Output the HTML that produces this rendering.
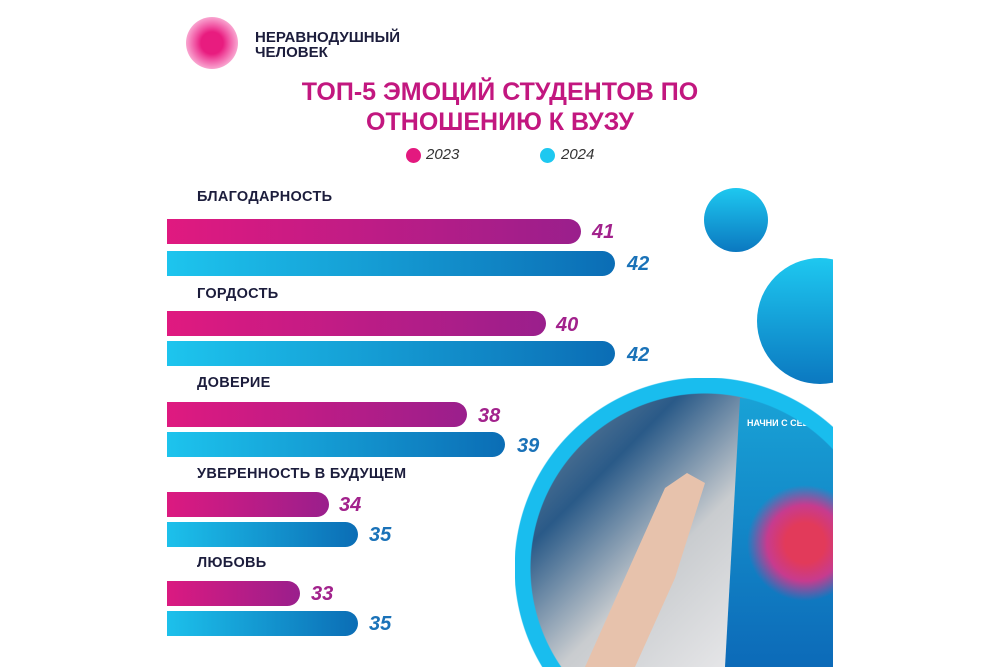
<!DOCTYPE html>
<html style="margin:0;width:1000px;height:667px;overflow:hidden"><head><meta charset="utf-8"><style>
body{margin:0;width:1000px;height:667px;background:#fff;overflow:hidden;font-family:"Liberation Sans","DejaVu Sans",sans-serif}
#w{position:relative;width:1000px;height:667px;overflow:hidden;background:#fff}
.a{position:absolute}
.lab{position:absolute;left:197px;font-weight:bold;font-size:14.5px;color:#1c1d3c;letter-spacing:0.3px}
.b{position:absolute;left:150px;height:25px;border-radius:0 13px 13px 0}
.p{background:linear-gradient(90deg,#e3197f,#9a1f8c)}
.c{background:linear-gradient(90deg,#1ec8f0,#0b6db5)}
.v{position:absolute;font-weight:bold;font-style:italic;font-size:20px}
.vp{color:#a2228c}.vc{color:#1a72b8}
.f{position:absolute;left:0;top:0;width:318px;height:289px}
</style></head><body><div id="w">
<div class="a" style="left:186px;top:17px;width:52px;height:52px;border-radius:50%;background:radial-gradient(circle,#e81c7f 0 30%,#f050a0 45%,#f793c6 65%,#fcd4e8 85%,#fff 100%)"></div>
<div class="a" style="left:255px;top:30px;font-weight:bold;font-size:15px;line-height:15px;color:#1c1d3c">НЕРАВНОДУШНЫЙ<br>ЧЕЛОВЕК</div>
<div class="a" style="left:200px;top:77px;width:600px;text-align:center;font-weight:bold;font-size:25px;line-height:30px;color:#c2177f">ТОП-5 ЭМОЦИЙ СТУДЕНТОВ ПО<br>ОТНОШЕНИЮ К ВУЗУ</div>
<div class="a" style="left:406px;top:148px;width:15px;height:15px;border-radius:50%;background:#e3197f"></div>
<div class="a" style="left:426px;top:146px;font-style:italic;font-size:15px;color:#333">2023</div>
<div class="a" style="left:540px;top:148px;width:15px;height:15px;border-radius:50%;background:#1ec8f0"></div>
<div class="a" style="left:561px;top:146px;font-style:italic;font-size:15px;color:#333">2024</div>

<div class="a" style="left:704px;top:188px;width:64px;height:64px;border-radius:50%;background:linear-gradient(180deg,#1ec8f0,#0b78c0)"></div>

<div class="a" style="left:515px;top:378px;width:318px;height:289px;overflow:hidden">
 <div class="f" style="background:linear-gradient(135deg,#8a96a0 0%,#2a5a88 30%,#c9cccf 55%,#e8e8ea 85%)"></div>
 <div class="f" style="clip-path:polygon(225px 20px,318px 28px,318px 289px,210px 289px);background:radial-gradient(circle at 290px 165px,#e23a5a 0 20px,#c73b8e 38px,rgba(61,127,200,0) 58px),linear-gradient(180deg,#1aa6d8,#0c6ab8)"></div>
 <div class="f" style="clip-path:polygon(150px 110px,172px 95px,190px 105px,160px 200px,120px 289px,70px 289px);background:#e7c2ac"></div>
 <div class="a" style="left:232px;top:40px;color:#fff;font-weight:bold;font-size:9px">НАЧНИ С СЕБЯ!</div>
 <div class="f" style="background:radial-gradient(circle at 190px 190px,rgba(255,255,255,0) 174px,#19bdee 175px,#19bdee 190px,#fff 191px)"></div>
</div>
<div class="a" style="left:757px;top:258px;width:76px;height:126px;overflow:hidden"><div class="a" style="left:0;top:0;width:126px;height:126px;border-radius:50%;background:linear-gradient(180deg,#1ec8f0,#0b78c0)"></div></div>

<div class="lab" style="top:189px">БЛАГОДАРНОСТЬ</div>
<div class="b p" style="top:219px;width:431px"></div><div class="v vp" style="left:592px;top:221px">41</div>
<div class="b c" style="top:251px;width:465px"></div><div class="v vc" style="left:627px;top:253px">42</div>
<div class="lab" style="top:286px">ГОРДОСТЬ</div>
<div class="b p" style="top:311px;width:396px"></div><div class="v vp" style="left:556px;top:314px">40</div>
<div class="b c" style="top:341px;width:465px"></div><div class="v vc" style="left:627px;top:344px">42</div>
<div class="lab" style="top:375px">ДОВЕРИЕ</div>
<div class="b p" style="top:402px;width:317px"></div><div class="v vp" style="left:478px;top:405px">38</div>
<div class="b c" style="top:432px;width:355px"></div><div class="v vc" style="left:517px;top:435px">39</div>
<div class="lab" style="top:466px">УВЕРЕННОСТЬ В БУДУЩЕМ</div>
<div class="b p" style="top:492px;width:179px"></div><div class="v vp" style="left:339px;top:494px">34</div>
<div class="b c" style="top:522px;width:208px"></div><div class="v vc" style="left:369px;top:524px">35</div>
<div class="lab" style="top:555px">ЛЮБОВЬ</div>
<div class="b p" style="top:581px;width:150px"></div><div class="v vp" style="left:311px;top:583px">33</div>
<div class="b c" style="top:611px;width:208px"></div><div class="v vc" style="left:369px;top:613px">35</div>
<div class="a" style="left:0;top:0;width:167px;height:667px;background:#fff"></div>
</div></body></html>
